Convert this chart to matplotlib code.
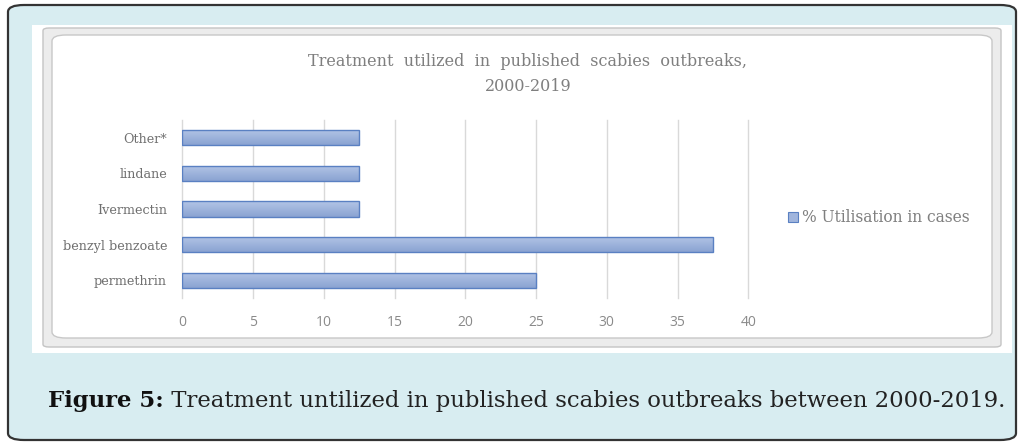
#!/usr/bin/env python3

import numpy as np
import matplotlib
matplotlib.use('Agg')
from matplotlib import pyplot as plt
from matplotlib.patches import FancyBboxPatch, Rectangle
from matplotlib.colors import LinearSegmentedColormap

# data
treatments = ['permethrin', 'benzyl benzoate', 'Ivermectin', 'lindane', 'Other*']
utilisation = [25, 37.5, 12.5, 12.5, 12.5]
x_ticks = [0, 5, 10, 15, 20, 25, 30, 35, 40]
series_name = '% Utilisation in cases'
chart_title = 'Treatment  utilized  in  published  scabies  outbreaks,\n2000-2019'
caption_bold = 'Figure 5:'
caption_text = ' Treatment untilized in published scabies outbreaks between 2000-2019.'

W, H = 1020, 442
SERIF = 'DejaVu Serif'
GRAY_TXT = '#7f7f7f'


def box(fig, x0, y0, x1, y1, **kw):
    # pixel box (top-left origin) -> figure fraction rounded box
    pad = kw.pop('rad', 0)
    p = FancyBboxPatch((x0 / W, 1 - y1 / H), (x1 - x0) / W, (y1 - y0) / H,
                       boxstyle='round,pad=0,rounding_size=%f' % (pad / W),
                       transform=fig.transFigure, zorder=-3, **kw)
    fig.add_artist(p)
    return p


def draw_frames(fig):
    box(fig, 8, 5, 1016, 440, rad=16, facecolor='#d8edf1', edgecolor='#333333', lw=1.6)
    fig.add_artist(Rectangle((32 / W, 1 - 353 / H), 980 / W, 328 / H, zorder=-3,
                             transform=fig.transFigure, facecolor='white', edgecolor='none'))
    box(fig, 43, 28, 1001, 347, rad=6, facecolor='#ececec', edgecolor='#c4c4c4', lw=1.0)
    box(fig, 52, 35, 992, 338, rad=14, facecolor='white', edgecolor='#c8c8c8', lw=1.0)


def plot_bars(ax):
    cmap = LinearSegmentedColormap.from_list('bar', ['#8aa3d2', '#b3c5e6'])
    bars = ax.barh(treatments, utilisation, height=0.43, color='none',
                   edgecolor='#5a80c2', lw=1.0, zorder=3)
    grad = np.linspace(0, 1, 64).reshape(-1, 1)
    for b in bars:
        x0, y0 = b.get_x(), b.get_y()
        im = ax.imshow(grad, cmap=cmap, aspect='auto', origin='lower',
                       extent=(x0, x0 + b.get_width(), y0, y0 + b.get_height()),
                       zorder=2)
        im.set_clip_path(b)
    ax.set_xlim(0, 40)
    ax.set_ylim(-0.5, len(treatments) - 0.5)
    ax.set_xticks(x_ticks)
    ax.grid(axis='x', color='#d9d9d9', lw=1.0, zorder=0)
    for gl in ax.get_xgridlines():
        gl.set_clip_on(False)
    ax.set_axisbelow(True)
    for s in ax.spines.values():
        s.set_visible(False)
    ax.tick_params(length=0)
    ax.tick_params(axis='x', pad=12, labelsize=10, labelcolor='#8a8a8a')
    ax.tick_params(axis='y', pad=11, labelsize=9.2, labelcolor='#6f6f6f')
    for t in ax.get_xticklabels():
        t.set_family('Open Sans')
    for t in ax.get_yticklabels():
        t.set_family(SERIF)


def main():
    fig = plt.figure(figsize=(W / 100, H / 100), dpi=100)
    fig.patch.set_facecolor('white')
    draw_frames(fig)

    ax = fig.add_axes([182.3 / W, 1 - 298 / H, 566 / W, 178 / H])
    ax.set_zorder(5)
    ax.patch.set_alpha(0)
    plot_bars(ax)

    fig.text(528 / W, 1 - 74 / H, chart_title, ha='center', va='center',
             family=SERIF, fontsize=11.5, color=GRAY_TXT, linespacing=1.6)

    # legend
    fig.add_artist(Rectangle((788 / W, 1 - 222 / H), 10 / W, 10 / H,
                             transform=fig.transFigure, facecolor='#a0b5dd',
                             edgecolor='#5a80c2', lw=0.8))
    fig.text(802 / W, 1 - 217 / H, series_name, ha='left', va='center',
             family=SERIF, fontsize=11.2, color=GRAY_TXT)

    # caption
    cb = fig.text(48 / W, 1 - 401 / H, caption_bold, ha='left', va='center',
                  family=SERIF, fontsize=16.4, weight='bold', color='#111111')
    fig.canvas.draw()
    bb = cb.get_window_extent(fig.canvas.get_renderer())
    fig.text(bb.x1 / W, 1 - 401 / H, caption_text, ha='left', va='center',
             family=SERIF, fontsize=16.4, color='#222222')

    fig.savefig('out.png', dpi=100)


if __name__ == "__main__":
    main()
